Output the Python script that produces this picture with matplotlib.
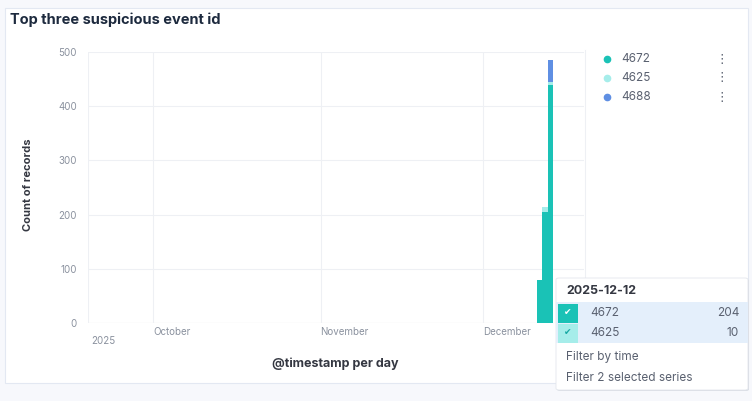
import pandas as pd
import matplotlib
matplotlib.use('Agg')
import matplotlib.pyplot as plt
from matplotlib.patches import Rectangle, FancyBboxPatch
from matplotlib.lines import Line2D

plt.rcParams['font.family'] = ['Inter', 'DejaVu Sans']

# Данные
days = pd.to_datetime(['2025-12-11', '2025-12-12', '2025-12-13'])
ids = ['4672', '4625', '4688']
counts_4672 = [79, 204, 440]
counts_4625 = [0, 10, 4]
counts_4688 = [0, 0, 42]
colors = ['#1AC2B6', '#A6EDEA', '#5F8FE3']

month_ticks = pd.to_datetime(['2025-10-01', '2025-11-01', '2025-12-01'])
month_labels = ['October', 'November', 'December']
x_start = pd.Timestamp('2025-09-19')
x_end = pd.Timestamp('2025-12-19 17:00')

tooltip_day = '2025-12-12'
tooltip_idx = 1

W, H = 752, 401
fig = plt.figure(figsize=(W / 100, H / 100), dpi=100)
fig.patch.set_facecolor('#F7F8FC')


def fx(px):
    return px / W


def fy(py):
    return 1 - py / H


# белая панель
fig.add_artist(Rectangle((fx(5), fy(383)), fx(743), 375 / H, transform=fig.transFigure,
                         facecolor='white', edgecolor='#E3E8F2', linewidth=0.8, zorder=0))

fig.text(fx(10), fy(20), 'Top three suspicious event id', fontsize=10.5, fontweight='bold',
         color='#1D2A3E', va='center', ha='left')

# Гистограмма
ax = fig.add_axes([fx(88), fy(323), fx(496), 271 / H])
ax.set_facecolor('white')
ax.set_zorder(0.5)

ax.bar(days, counts_4672, width=1, align='edge', color=colors[0], linewidth=0)
bottom2 = [a + b for a, b in zip(counts_4672, counts_4625)]
ax.bar(days, counts_4625, width=1, align='edge', bottom=counts_4672, color=colors[1], linewidth=0)
ax.bar(days, counts_4688, width=1, align='edge', bottom=bottom2, color=colors[2], linewidth=0)

ax.set_ylim(0, 500)
ax.set_xlim(x_start, x_end)
ax.set_yticks(range(0, 501, 100))
ax.set_xticks(month_ticks)
ax.set_xticklabels(month_labels, ha='left')
ax.tick_params(axis='both', length=0, labelsize=7, labelcolor='#8A919E')
ax.tick_params(axis='x', pad=3)
ax.tick_params(axis='y', pad=8)
ax.grid(True, color='#EEF0F4', linewidth=0.8)
ax.set_axisbelow(True)
for s in ax.spines.values():
    s.set_visible(False)
ax.axhline(0, color='#E3E6EC', linewidth=0.8, zorder=0)
ax.axvline(x_start, color='#EEF0F4', linewidth=0.8, zorder=0)

ax.text(0.006, -0.068, '2025', transform=ax.transAxes, fontsize=7, color='#8A919E',
        ha='left', va='center')

ax.set_ylabel('Count of records', fontsize=8, fontweight='bold', color='#343741')
ax.yaxis.set_label_coords(-0.111, 0.51)
ax.set_xlabel('@timestamp per day', fontsize=9, fontweight='bold', color='#343741')
ax.xaxis.set_label_coords(0.498, -0.128)

# Легенда
fig.add_artist(Line2D([fx(585), fx(585)], [fy(50), fy(323)], transform=fig.transFigure,
                      color='#EEF0F4', linewidth=0.8))
for i, (name, c) in enumerate(zip(ids, colors)):
    y = 59 + i * 19
    fig.add_artist(Line2D([fx(607)], [fy(y)], marker='o', markersize=4.5, color=c,
                          transform=fig.transFigure, linestyle='none'))
    fig.text(fx(621), fy(y), name, fontsize=8.5, color='#5A6170', va='center', ha='left')
    fig.text(fx(722), fy(y), '\u22ee', fontsize=9, color='#5A6170', va='center', ha='center',
             family=['DejaVu Sans'])

# Подсказка
fig.add_artist(FancyBboxPatch((fx(557), fy(391)), fx(192), 112 / H, transform=fig.transFigure,
                              boxstyle='round,pad=0,rounding_size=0.004', facecolor='#D9DDE5',
                              edgecolor='none', zorder=2))
fig.add_artist(FancyBboxPatch((fx(556), fy(390)), fx(192), 112 / H, transform=fig.transFigure,
                              boxstyle='round,pad=0,rounding_size=0.004', facecolor='white',
                              edgecolor='#E3E6EC', linewidth=0.6, zorder=2))
fig.text(fx(566), fy(291), tooltip_day, fontsize=9, fontweight='bold', color='#343741',
         va='center', ha='left', zorder=4)
fig.add_artist(Rectangle((fx(556), fy(343)), fx(192), 41 / H, transform=fig.transFigure,
                         facecolor='#E4EFFB', edgecolor='none', zorder=3))
rows = [(ids[0], counts_4672[tooltip_idx], colors[0], 'white'),
        (ids[1], counts_4625[tooltip_idx], colors[1], '#16A8A3')]
for i, (name, val, c, chk) in enumerate(rows):
    y = 313 + i * 20
    fig.add_artist(Rectangle((fx(558), fy(y + 10)), fx(20), 19 / H, transform=fig.transFigure,
                             facecolor=c, edgecolor='none', zorder=3))
    fig.text(fx(568), fy(y), '\u2714', fontsize=6.5, color=chk, va='center', ha='center',
             family=['DejaVu Sans'], zorder=4)
    fig.text(fx(590), fy(y), name, fontsize=8.5, color='#5A6170', va='center', ha='left', zorder=4)
    fig.text(fx(739), fy(y), str(val), fontsize=8.5, color='#5A6170', va='center', ha='right', zorder=4)
fig.text(fx(566), fy(357), 'Filter by time', fontsize=8.5, color='#5A6170', va='center', ha='left', zorder=4)
fig.text(fx(566), fy(378), 'Filter 2 selected series', fontsize=8.5, color='#5A6170', va='center',
         ha='left', zorder=4)

fig.savefig('out.png', dpi=100)
